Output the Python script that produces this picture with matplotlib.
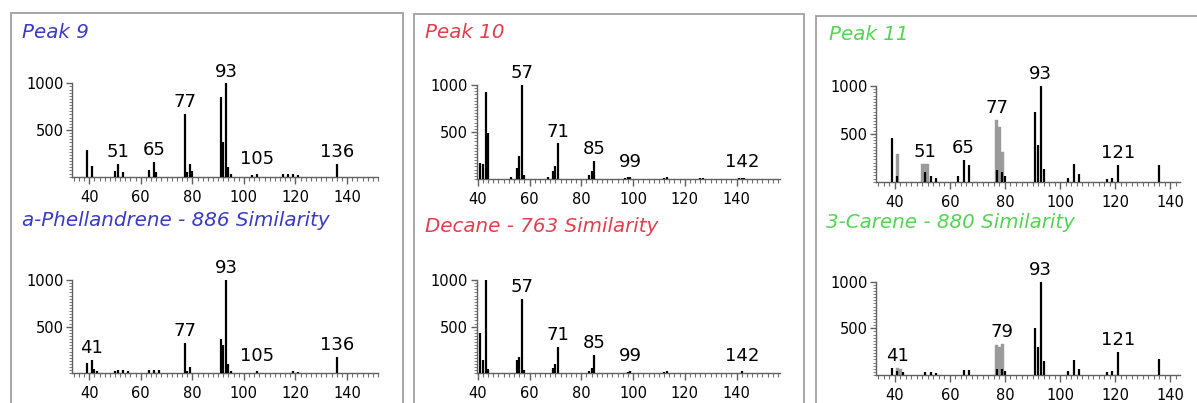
import matplotlib
matplotlib.use("Agg")
import matplotlib.pyplot as plt
from matplotlib.patches import Rectangle
from matplotlib.ticker import MultipleLocator, FixedLocator

# ---------------- data ----------------
peak9_mz = [39, 41, 50, 51, 53, 63, 65, 66, 77, 78, 79, 80, 91, 92, 93, 94, 95, 103, 105, 115, 117, 119, 121, 136]
peak9_int = [290, 118, 60, 136, 45, 70, 160, 45, 670, 50, 136, 60, 853, 375, 1000, 100, 30, 20, 30, 25, 25, 25, 20, 136]
peak9_labels = [51, 65, 77, 93, 105, 136]

phell_mz = [39, 41, 42, 43, 50, 51, 53, 55, 63, 65, 67, 77, 78, 79, 91, 92, 93, 94, 95, 105, 119, 121, 136]
phell_int = [110, 140, 50, 30, 30, 40, 35, 30, 35, 40, 35, 330, 30, 70, 365, 300, 1000, 100, 30, 20, 20, 15, 180]
phell_labels = [41, 77, 93, 105, 136]

peak10_mz = [41, 42, 43, 44, 53, 55, 56, 57, 58, 67, 69, 70, 71, 83, 84, 85, 97, 98, 99, 112, 113, 126, 127, 141, 142, 143]
peak10_int = [170, 160, 930, 490, 20, 120, 240, 1000, 40, 20, 80, 140, 380, 40, 80, 195, 10, 20, 25, 10, 20, 8, 10, 8, 15, 8]
peak10_labels = [57, 71, 85, 99, 142]

decane_mz = [41, 42, 43, 44, 55, 56, 57, 58, 69, 70, 71, 83, 84, 85, 98, 99, 112, 113, 127, 142]
decane_int = [430, 140, 1000, 50, 143, 180, 800, 40, 60, 100, 285, 30, 60, 196, 15, 20, 10, 20, 8, 30]
decane_labels = [57, 71, 85, 99, 142]

peak11_mz = [39, 41, 51, 53, 55, 63, 65, 67, 77, 79, 80, 91, 92, 93, 94, 103, 105, 107, 117, 119, 121, 136]
peak11_int = [460, 60, 100, 60, 40, 60, 226, 175, 120, 100, 60, 732, 383, 1000, 130, 40, 190, 80, 30, 40, 175, 175]
peak11_gray_mz = [41, 50, 51, 52, 77, 78, 79]
peak11_gray_int = [286, 190, 190, 190, 645, 570, 313]
peak11_labels = [51, 65, 77, 93, 121]

carene_mz = [39, 41, 43, 51, 53, 55, 65, 67, 77, 79, 80, 91, 92, 93, 94, 103, 105, 107, 117, 119, 121, 136]
carene_int = [70, 40, 30, 30, 35, 25, 50, 55, 60, 60, 40, 500, 300, 1000, 150, 40, 160, 60, 30, 40, 250, 170]
carene_gray_mz = [41, 42, 77, 78, 79]
carene_gray_int = [80, 60, 320, 300, 330]
carene_labels = [41, 79, 93, 121]

titles_top = ["Peak 9", "Peak 10", "Peak 11"]
titles_bottom = ["a-Phellandrene - 886 Similarity", "Decane - 763 Similarity", "3-Carene - 880 Similarity"]
title_colors = ["#3a3ac4", "#e0404e", "#52d652"]

x_major = [40, 60, 80, 100, 120, 140]
y_major = [500, 1000]

# ---------------- figure ----------------
W, H = 1197, 403
fig = plt.figure(figsize=(W / 100, H / 100), dpi=100)
fig.patch.set_facecolor("white")

# panel boxes (left, right, top) in pixels
boxes = [(11, 403, 13), (414, 804, 14), (816, 1210, 16)]
for (x0, x1, y0) in boxes:
    fig.add_artist(Rectangle((x0 / W, -0.05), (x1 - x0) / W, (H - y0) / H + 0.05,
                             transform=fig.transFigure, fill=False,
                             ec="#a0a0a0", lw=1.3))


def make_ax(left, right, base, top1000, xlim):
    ax = fig.add_axes([left / W, (H - base) / H, (right - left) / W, (base - top1000) / H])
    ax.set_xlim(*xlim)
    ax.set_ylim(0, 1000)
    ax.patch.set_alpha(0)
    for s in ("top", "right"):
        ax.spines[s].set_visible(False)
    for s in ("left", "bottom"):
        ax.spines[s].set_color("#606060")
        ax.spines[s].set_linewidth(1.0)
    ax.xaxis.set_major_locator(FixedLocator(x_major))
    ax.xaxis.set_minor_locator(MultipleLocator(2))
    ax.yaxis.set_major_locator(FixedLocator(y_major))
    ax.yaxis.set_minor_locator(MultipleLocator(1000 / 30))
    ax.tick_params(axis="x", which="major", length=5, width=1.0, color="#606060",
                   labelsize=10.5, pad=4.5)
    ax.tick_params(axis="x", which="minor", length=3, width=0.8, color="#707070")
    ax.tick_params(axis="y", which="major", length=4, width=1.0, color="#606060",
                   labelsize=10.5, pad=2)
    ax.tick_params(axis="y", which="minor", length=2.5, width=0.7, color="#808080")
    return ax


def draw(ax, mz, inten, labels, gray_mz=None, gray_int=None):
    if gray_mz is not None:
        ax.bar(gray_mz, gray_int, width=1.0, color="#9a9a9a", ec="#9a9a9a", lw=0.3, zorder=2)
    ax.vlines(mz, 0, inten, color="black", lw=1.6, zorder=3)
    lookup = dict(zip(mz, inten))
    if gray_mz is not None:
        for m, v in zip(gray_mz, gray_int):
            lookup[m] = max(lookup.get(m, 0), v)
    for m in labels:
        y = max(lookup.get(m, 0), 60)
        ax.annotate(str(m), (m, y), xytext=(0, 2), textcoords="offset points",
                    ha="center", va="bottom", fontsize=13, annotation_clip=False)


# left panel
ax = make_ax(71.7, 378, 176.7, 83.3, (33.2, 152.0))
draw(ax, peak9_mz, peak9_int, peak9_labels)
ax = make_ax(71.7, 378, 373.3, 280, (33.2, 152.0))
draw(ax, phell_mz, phell_int, phell_labels)

# middle panel
ax = make_ax(476.5, 780, 179, 85, (39.5, 156.8))
draw(ax, peak10_mz, peak10_int, peak10_labels)
ax = make_ax(476.5, 780, 373.3, 280, (39.5, 156.8))
draw(ax, decane_mz, decane_int, decane_labels)

# right panel
ax = make_ax(876, 1180, 181.7, 86, (33.2, 143.5))
draw(ax, peak11_mz, peak11_int, peak11_labels, peak11_gray_mz, peak11_gray_int)
ax = make_ax(876, 1180, 375, 281.7, (33.2, 143.5))
draw(ax, carene_mz, carene_int, carene_labels, carene_gray_mz, carene_gray_int)

# titles
top_pos = [(22, 32), (425, 33), (829, 35)]
bot_pos = [(22, 220), (425, 227), (826, 222)]
for (x, y), t, c in zip(top_pos, titles_top, title_colors):
    fig.text(x / W, 1 - y / H, t, color=c, style="italic", fontsize=14.3, ha="left", va="center")
for (x, y), t, c in zip(bot_pos, titles_bottom, title_colors):
    fig.text(x / W, 1 - y / H, t, color=c, style="italic", fontsize=14.3, ha="left", va="center")

fig.savefig("out.png", dpi=100, facecolor="white")
